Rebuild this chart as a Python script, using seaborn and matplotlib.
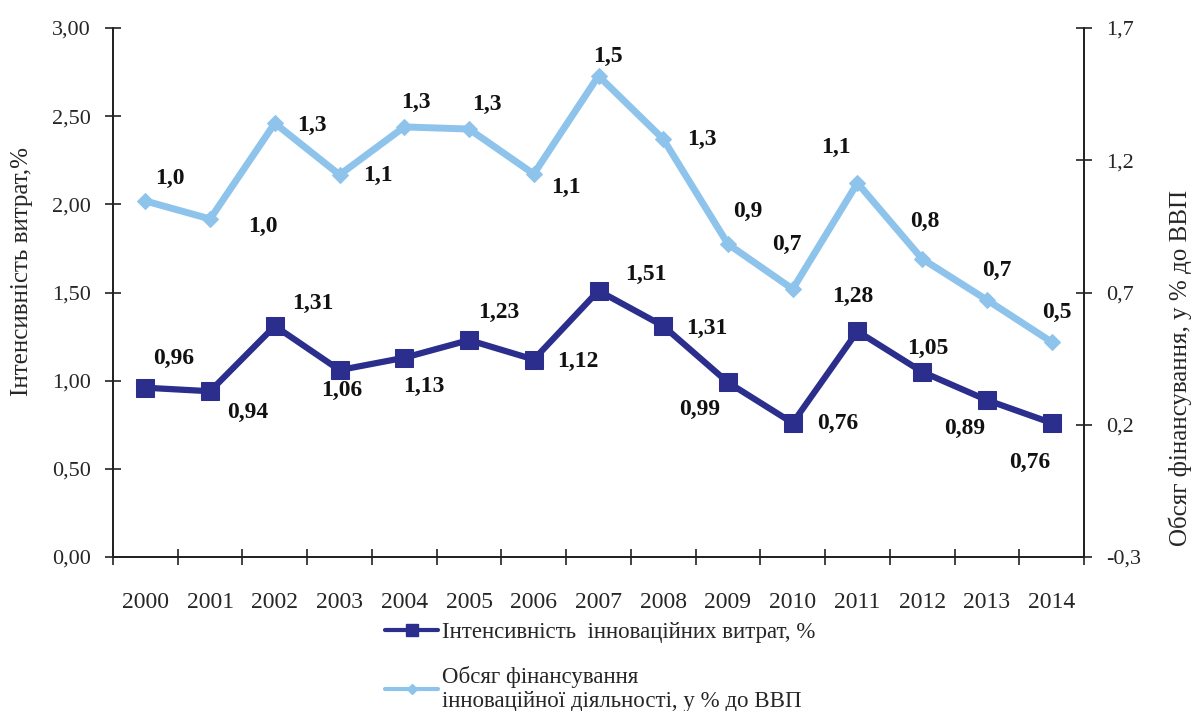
import matplotlib
matplotlib.use('Agg')
from matplotlib import pyplot as plt
from matplotlib.lines import Line2D
from matplotlib.ticker import FuncFormatter, FixedLocator
import seaborn as sns

# data
years = ['2000', '2001', '2002', '2003', '2004', '2005', '2006', '2007',
         '2008', '2009', '2010', '2011', '2012', '2013', '2014']
intensity = [0.96, 0.94, 1.31, 1.06, 1.13, 1.23, 1.12, 1.51,
             1.31, 0.99, 0.76, 1.28, 1.05, 0.89, 0.76]
funding = [1.046, 0.978, 1.34, 1.145, 1.326, 1.318, 1.148, 1.519,
           1.28, 0.883, 0.713, 1.114, 0.827, 0.672, 0.513]

name_intensity = 'Інтенсивність  інноваційних витрат, %'
name_funding = 'Обсяг фінансування\nінноваційної діяльності, у % до ВВП'
ylabel_left = 'Інтенсивність витрат,%'
ylabel_right = 'Обсяг фінансування, у % до ВВП'

# label offsets in pixels (dx right, dy up)
off_intensity = [(28, 29), (38, -21), (38, 23), (2, -20), (20, -29), (30, 28),
                 (44, -2), (47, 16), (44, -2), (-28, -27), (45, 0), (-5, 35),
                 (6, 23), (-22, -28), (-22, -39)]
off_funding = [(25, 23), (53, -7), (37, -2), (38, -1), (12, 24), (18, 25),
               (32, -13), (9, 19), (39, 0), (20, 33), (-6, 45), (-21, 36),
               (3, 37), (10, 29), (5, 30)]

DARK = '#2B2E8C'
LIGHT = '#8EC4EC'


def comma(fmt):
    return FuncFormatter(lambda v, p: fmt.format(v).replace('.', ','))


sns.set_theme(style='white')
plt.rcParams['font.family'] = ['Liberation Serif', 'DejaVu Serif']
plt.rcParams['axes.unicode_minus'] = False

fig = plt.figure(figsize=(11.96, 7.11), dpi=100)
ax = fig.add_axes([113 / 1196, 1 - 557 / 711, (1084 - 113) / 1196, (557 - 28) / 711])
ax2 = ax.twinx()

sns.lineplot(x=years, y=intensity, ax=ax, color=DARK, lw=4.5, marker='s',
             markersize=13, markeredgecolor=DARK, sort=False, legend=False)
sns.lineplot(x=years, y=funding, ax=ax2, color=LIGHT, lw=5, marker='D',
             markersize=8, markeredgecolor=LIGHT, sort=False, legend=False)

for i, v in enumerate(intensity):
    ax.annotate('{:.2f}'.format(v).replace('.', ','), (i, v),
                xytext=off_intensity[i], textcoords='offset pixels',
                ha='center', va='center', fontsize=17, fontweight='bold',
                color='#111111')
for i, v in enumerate(funding):
    ax2.annotate('{:.1f}'.format(v).replace('.', ','), (i, v),
                 xytext=off_funding[i], textcoords='offset pixels',
                 ha='center', va='center', fontsize=17, fontweight='bold',
                 color='#111111')

ax.set_xlim(-0.5, len(years) - 0.5)
ax.set_ylim(0, 3)
ax.set_yticks([0, 0.5, 1, 1.5, 2, 2.5, 3])
ax.yaxis.set_major_formatter(comma('{:.2f}'))
ax2.set_ylim(-0.3, 1.7)
ax2.set_yticks([-0.3, 0.2, 0.7, 1.2, 1.7])
ax2.yaxis.set_major_formatter(comma('{:.1f}'))

ax.xaxis.set_minor_locator(FixedLocator([k - 0.5 for k in range(len(years) + 1)]))
ax.tick_params(axis='x', which='major', length=0, pad=25, labelsize=17)
ax.tick_params(axis='x', which='minor', direction='inout', length=12,
               width=1.2, color='#222222', bottom=True)
ax.tick_params(axis='y', direction='inout', length=12, width=1.2,
               color='#222222', labelsize=16, pad=10, left=True)
ax2.tick_params(axis='y', direction='inout', length=12, width=1.2,
                color='#222222', labelsize=16, pad=10, right=True)

for a in (ax, ax2):
    a.spines['top'].set_visible(False)
    for s in ('left', 'right', 'bottom'):
        a.spines[s].set_color('#222222')
        a.spines[s].set_linewidth(1.3)
    a.grid(False)
    a.set_xlabel('')

ax.set_ylabel(ylabel_left, fontsize=18)
ax.yaxis.set_label_coords(-80 / 971, 0.54)
ax2.set_ylabel(ylabel_right, fontsize=18)
ax2.yaxis.set_label_coords(1 + 84 / 971, 0.357)

handles = [Line2D([], [], color=DARK, lw=3, marker='s', markersize=8),
           Line2D([], [], color=LIGHT, lw=3, marker='D', markersize=5)]
fig.legend(handles, [name_intensity, name_funding], loc='upper left',
           bbox_to_anchor=(376 / 1196, 1 - 613 / 711), frameon=False,
           fontsize=16.5, handlelength=2.3, handletextpad=0.2,
           labelspacing=1.0, borderaxespad=0)

fig.savefig('out.png', dpi=100)
plt.close(fig)
